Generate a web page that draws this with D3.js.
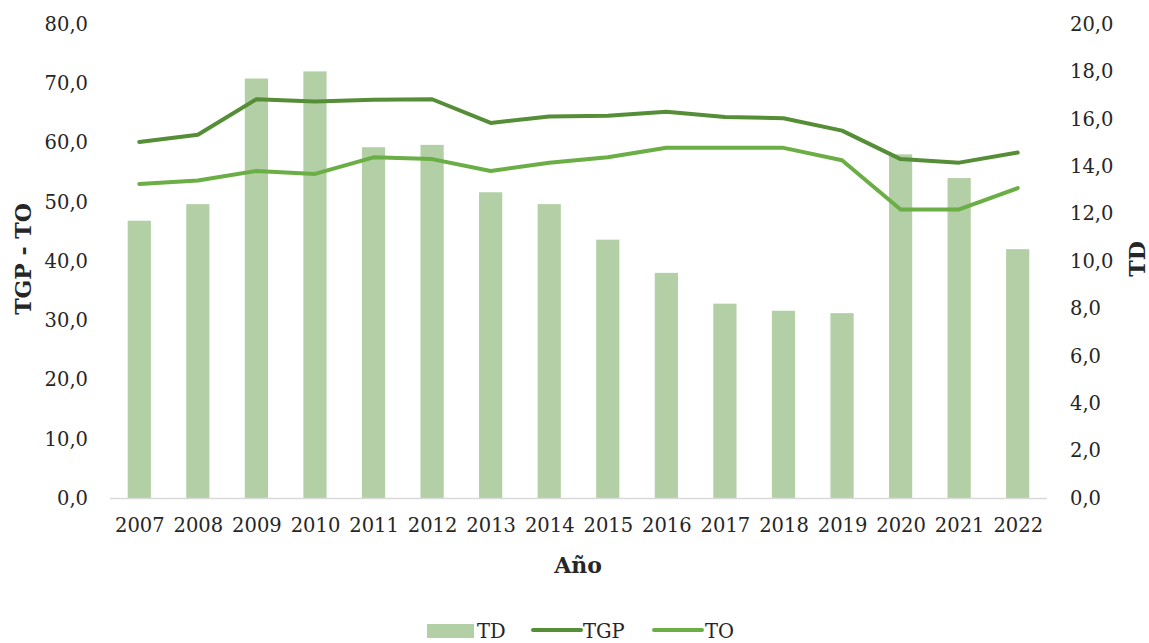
<!DOCTYPE html>
<html><head><meta charset="utf-8">
<script src="https://cdn.jsdelivr.net/npm/d3@7"></script>
<style>body{margin:0;background:#fff}text{font-family:"DejaVu Serif",serif;fill:#262626}</style>
</head><body><svg id="c" width="1149" height="643"></svg>
<script>
const years = ["2007","2008","2009","2010","2011","2012","2013","2014","2015","2016","2017","2018","2019","2020","2021","2022"];
const td  = [11.7,12.4,17.7,18.0,14.8,14.9,12.9,12.4,10.9,9.5,8.2,7.9,7.8,14.5,13.5,10.5];
const tgp = [60.1,61.3,67.3,66.9,67.2,67.3,63.3,64.4,64.5,65.2,64.3,64.1,62.0,57.2,56.6,58.3];
const to  = [53.0,53.6,55.2,54.7,57.5,57.2,55.2,56.6,57.5,59.1,59.1,59.1,57.0,48.7,48.7,52.3];
const leftTicks = [0,10,20,30,40,50,60,70,80];
const rightTicks = [0,2,4,6,8,10,12,14,16,18,20];

const svg = d3.select("#c");
const L = 110, R = 1047, T = 24, B = 498;
const xc = d3.scalePoint().domain(years).range([L, R]).padding(0.5);
const yL = d3.scaleLinear().domain([0, 80]).range([B, T]);
const yR = d3.scaleLinear().domain([0, 20]).range([B, T]);
const fmt = d => d.toFixed(1).replace(".", ",");
const cBar = "#b3cfa6", cTGP = "#558e36", cTO = "#6aae45";
const tickFS = "19.5px";

// bars
svg.append("g").selectAll("rect").data(years).join("rect")
  .attr("x", d => xc(d) - 11.6).attr("width", 23.2)
  .attr("y", (d, i) => yR(td[i])).attr("height", (d, i) => B - yR(td[i]))
  .attr("fill", cBar);

// baseline
svg.append("line").attr("x1", L).attr("x2", R).attr("y1", B + 0.5).attr("y2", B + 0.5)
  .attr("stroke", "#d9d9d9").attr("stroke-width", 1.5);

// lines
const line = d3.line().x((d, i) => xc(years[i])).y(d => yL(d));
svg.append("path").datum(tgp).attr("d", line).attr("fill", "none").attr("stroke", cTGP)
  .attr("stroke-width", 4).attr("stroke-linejoin", "round").attr("stroke-linecap", "round");
svg.append("path").datum(to).attr("d", line).attr("fill", "none").attr("stroke", cTO)
  .attr("stroke-width", 4).attr("stroke-linejoin", "round").attr("stroke-linecap", "round");

// left axis
const gl = svg.append("g").attr("transform", `translate(${L},0)`)
  .call(d3.axisLeft(yL).tickValues(leftTicks).tickFormat(fmt).tickSize(0).tickPadding(22));
gl.select(".domain").remove();
gl.selectAll("text").style("font-size", tickFS).attr("font-family", "DejaVu Serif").attr("fill", "#262626");

// right axis
const gr = svg.append("g").attr("transform", `translate(${R},0)`)
  .call(d3.axisRight(yR).tickValues(rightTicks).tickFormat(fmt).tickSize(0).tickPadding(23));
gr.select(".domain").remove();
gr.selectAll("text").style("font-size", tickFS).attr("font-family", "DejaVu Serif").attr("fill", "#262626");

// x axis
const gx = svg.append("g").attr("transform", `translate(0,${B})`)
  .call(d3.axisBottom(xc).tickSize(0).tickPadding(20));
gx.select(".domain").remove();
gx.selectAll("text").style("font-size", tickFS).attr("font-family", "DejaVu Serif").attr("fill", "#262626");

// titles
svg.append("text").attr("transform", "translate(31,259) rotate(-90)").attr("text-anchor", "middle")
  .style("font-size", "22px").style("font-weight", "bold").attr("fill", "#000").text("TGP - TO");
svg.append("text").attr("transform", "translate(1145,259) rotate(-90)").attr("text-anchor", "middle")
  .style("font-size", "22px").style("font-weight", "bold").attr("fill", "#000").text("TD");
svg.append("text").attr("x", 578).attr("y", 573).attr("text-anchor", "middle")
  .style("font-size", "22px").style("font-weight", "bold").attr("fill", "#000").text("Año");

// legend
const lg = svg.append("g");
lg.append("rect").attr("x", 427).attr("y", 624).attr("width", 47).attr("height", 14).attr("fill", cBar);
lg.append("text").attr("x", 477).attr("y", 638).style("font-size", "19.5px").text("TD");
lg.append("line").attr("x1", 533).attr("x2", 581).attr("y1", 630).attr("y2", 630)
  .attr("stroke", cTGP).attr("stroke-width", 4).attr("stroke-linecap", "round");
lg.append("text").attr("x", 583).attr("y", 638).style("font-size", "19.5px").text("TGP");
lg.append("line").attr("x1", 654).attr("x2", 702).attr("y1", 630).attr("y2", 630)
  .attr("stroke", cTO).attr("stroke-width", 4).attr("stroke-linecap", "round");
lg.append("text").attr("x", 705).attr("y", 638).style("font-size", "19.5px").text("TO");
</script></body></html>
